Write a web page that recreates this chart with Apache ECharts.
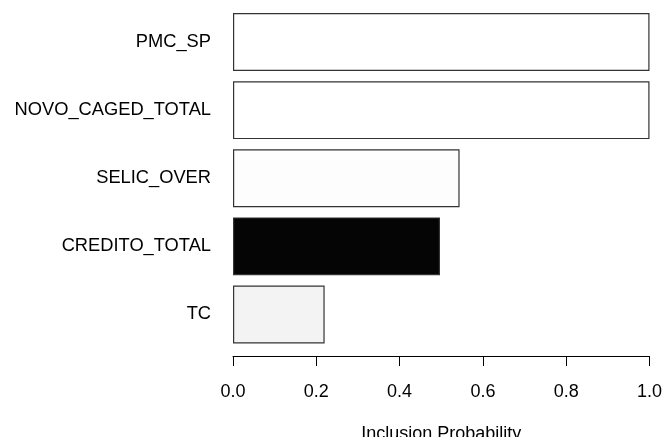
<!DOCTYPE html>
<html>
<head>
<meta charset="utf-8">
<script src="https://cdn.jsdelivr.net/npm/echarts@6/dist/echarts.min.js"></script>
<style>
    html, body { margin: 0; padding: 0; background: #ffffff; }
    #chart { width: 665px; height: 437px; }
</style>
</head>
<body>
<div id="chart"></div>
<script>
// variables, top to bottom as drawn
const categories = ['PMC_SP', 'NOVO_CAGED_TOTAL', 'SELIC_OVER', 'CREDITO_TOTAL', 'TC']
const inclusionProb = [1.0, 1.0, 0.544, 0.497, 0.22]
const barFills = ['#ffffff', '#ffffff', '#fdfdfd', '#050505', '#f3f3f3']
const xTicks = [0, 0.2, 0.4, 0.6, 0.8, 1.0]

const fontFamily = '"Liberation Sans", Arial, sans-serif'

const chart = echarts.init(document.getElementById('chart'))

chart.setOption({
    animation: false,
    grid: {
        top: 8,
        bottom: 88.5,
        left: 233,
        right: 15.5,
        outerBoundsMode: 'none',
    },
    xAxis: {
        type: 'value',
        min: xTicks[0],
        max: xTicks[xTicks.length - 1],
        interval: 0.2,
        offset: 7.5,
        name: 'Inclusion Probability',
        nameLocation: 'middle',
        nameGap: 69,
        nameTextStyle: { color: '#000', fontSize: 18, fontFamily },
        axisLine: { show: true, lineStyle: { color: '#000', width: 1 } },
        axisTick: { show: true, length: 10, lineStyle: { color: '#000' } },
        axisLabel: {
            color: '#000',
            fontSize: 18,
            fontFamily,
            margin: 27,
            formatter: v => v.toFixed(1),
        },
        splitLine: { show: false },
    },
    yAxis: {
        type: 'category',
        inverse: true,
        data: categories,
        axisLine: { show: false },
        axisTick: { show: false },
        axisLabel: {
            color: '#000',
            fontSize: 18.3,
            fontFamily,
            margin: 22,
        },
    },
    series: [
        {
            type: 'bar',
            barCategoryGap: '15%',
            data: inclusionProb.map((v, i) => ({
                value: v,
                itemStyle: { color: barFills[i] },
            })),
            itemStyle: {
                borderColor: '#333',
                borderWidth: 1.2,
            },
        },
    ],
})
</script>
</body>
</html>
